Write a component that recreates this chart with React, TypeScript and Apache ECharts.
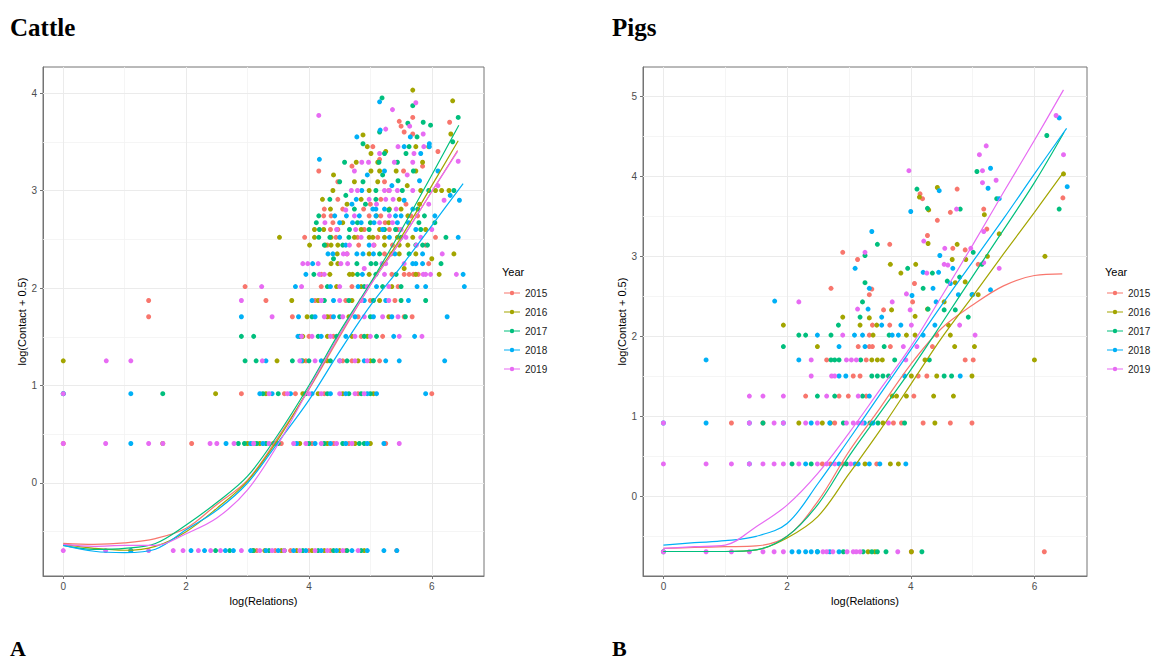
import React, { useEffect, useRef } from "react";
import * as echarts from "echarts";

const YEARS = ["2015", "2016", "2017", "2018", "2019"];
const COLORS = ["#F8766D", "#A3A500", "#00BF7D", "#00B0F6", "#E76BF3"];

// y levels log(k + 0.5)
const L0 = -0.693, L1 = 0.405, L2 = 0.916, L3 = 1.253, L4 = 1.504, L5 = 1.705, L6 = 1.872, L7 = 2.015, L8 = 2.14;

const X_TICKS = [0, 2, 4, 6];
const X_MINOR = [1, 3, 5];
const CATTLE_Y_TICKS = [0, 1, 2, 3, 4];
const CATTLE_Y_MINOR = [-0.5, 0.5, 1.5, 2.5, 3.5];
const PIGS_Y_TICKS = [0, 1, 2, 3, 4, 5];
const PIGS_Y_MINOR = [-0.5, 0.5, 1.5, 2.5, 3.5, 4.5];

// ---------- Cattle points: band rows [y, ...x] and free points [x, y] ----------
const cattleBands2015 = [
  [L0, 3.15, 3.45, 3.7, 4.0, 4.35, 4.6, 5.43],
  [L1, 0, 2.09, 3.1, 3.55, 4.05, 4.4, 4.65, 5.25],
  [L2, 2.9, 3.6, 3.78, 4.25, 4.8, 6.0],
  [L3, 3.95, 4.25, 4.55, 4.7, 5.15],
  [L4, 4.0, 4.4, 4.85, 5.2],
  [L5, 1.39, 3.73, 4.35, 4.8, 5.55, 5.68],
  [L6, 1.39, 3.3, 4.1, 4.6, 5.0, 5.4],
  [L7, 2.96, 4.2, 4.7, 5.45],
  [L8, 4.2, 5.7, 5.78],
];
const cattleUpper2015 = [
  [3.93, 2.52], [4.44, 2.52], [4.79, 2.52], [5.12, 2.52], [6.06, 2.52], [4.35, 2.6], [4.47, 2.6], [5.31, 2.6],
  [4.39, 2.67], [5.24, 2.67], [4.24, 2.74], [4.36, 2.74], [4.98, 2.74], [5.17, 2.74], [5.66, 2.74], [5.77, 2.74],
  [4.25, 2.81], [4.55, 2.81], [4.89, 2.81], [4.47, 2.91], [5.17, 2.91], [4.47, 3.09], [5.23, 3.09], [4.16, 3.2],
  [5.54, 3.2], [5.04, 3.45], [5.69, 3.58], [5.47, 3.71], [5.5, 3.66], [5.55, 3.6], [5.69, 3.75], [6.29, 3.7],
  [5.55, 2.14], [5.63, 2.14], [5.23, 2.35], [5.34, 2.35], [4.81, 2.44], [5.06, 2.44], [5.36, 2.44],
  [4.62, 2.35], [4.9, 2.6], [5.0, 2.86], [5.3, 3.0], [5.45, 2.6], [5.58, 2.86], [5.85, 3.25], [5.9, 2.44],
  [4.7, 3.25], [5.15, 3.32], [6.1, 3.4], [4.3, 2.44], [5.95, 2.25], [5.35, 2.14],
];

const cattleBands2016 = [
  [L0, 1.1, 3.1, 3.28, 3.55, 3.8, 4.05, 4.25, 4.5, 4.9],
  [L1, 1.62, 3.0, 3.2, 3.42, 3.85, 4.3, 4.75, 5.0],
  [L2, 2.48, 3.3, 3.9, 4.15, 4.55, 5.05],
  [L3, 0, 3.48, 3.9, 4.3, 4.8, 5.0],
  [L4, 3.9, 4.3, 4.7, 4.95],
  [L5, 3.97, 4.3, 4.65, 5.3],
  [L6, 3.72, 4.15, 4.7, 5.15],
  [L7, 4.45, 4.85, 5.35],
];
const cattleUpper2016 = [
  [4.34, 2.14], [4.66, 2.14], [4.71, 2.14], [4.98, 2.14], [5.74, 2.14], [6.12, 2.14], [4.36, 2.25], [4.47, 2.25],
  [4.46, 2.35], [4.98, 2.35], [5.47, 2.35], [5.74, 2.35], [6.36, 2.35], [4.01, 2.44], [4.27, 2.44], [4.36, 2.44],
  [4.47, 2.44], [5.23, 2.44], [5.47, 2.44], [5.61, 2.44], [3.52, 2.52], [4.09, 2.52], [4.36, 2.52], [4.74, 2.52],
  [4.98, 2.52], [5.04, 2.52], [5.23, 2.52], [5.44, 2.52], [5.69, 2.52], [4.09, 2.6], [4.24, 2.6], [4.85, 2.6],
  [5.15, 2.6], [5.9, 2.6], [5.61, 2.74], [4.35, 2.81], [5.31, 2.81], [5.5, 2.81], [4.22, 2.91], [4.85, 2.91],
  [5.47, 2.91], [4.39, 3.0], [4.98, 3.0], [5.82, 3.0], [6.06, 3.0], [6.16, 3.0], [6.28, 3.0], [4.74, 3.09],
  [5.12, 3.09], [5.01, 3.2], [5.15, 3.2], [5.42, 3.2], [5.74, 3.2], [4.77, 3.29], [5.12, 3.29], [5.85, 3.29],
  [5.01, 3.38], [5.74, 3.45], [4.88, 3.57], [6.31, 3.58], [5.69, 4.03], [6.34, 3.92],
  [4.55, 2.67], [4.62, 2.86], [5.1, 2.74], [5.3, 2.67], [5.6, 3.05], [5.8, 2.86], [5.95, 3.45], [4.4, 3.16],
  [5.25, 3.4], [4.95, 3.45], [6.0, 2.3], [5.55, 2.2],
];

const cattleBands2017 = [
  [L0, 2.48, 2.71, 3.09, 3.35, 3.6, 3.9, 4.15, 4.4, 4.62, 4.85],
  [L1, 2.85, 2.95, 3.15, 3.3, 3.5, 4.0, 4.25, 4.55, 4.82, 4.9],
  [L2, 0, 1.62, 3.25, 3.5, 3.95, 4.3, 4.65, 4.85, 5.0],
  [L3, 2.96, 3.14, 3.73, 4.0, 4.35, 4.62, 5.05],
  [L4, 2.9, 3.1, 3.85, 4.15, 4.45, 4.9, 5.1],
  [L5, 4.05, 4.5, 5.0, 5.57],
  [L6, 4.25, 4.65, 5.05, 5.5, 5.9],
  [L7, 4.3, 4.9, 5.2, 5.5],
];
const cattleUpper2017 = [
  [4.08, 2.14], [4.79, 2.14], [5.09, 2.14], [5.42, 2.14], [4.78, 2.25], [5.01, 2.25], [5.09, 2.25], [6.15, 2.25],
  [5.15, 2.35], [5.63, 2.35], [5.74, 2.44], [5.85, 2.44], [5.93, 2.44], [4.16, 2.52], [4.34, 2.52], [4.65, 2.52],
  [6.23, 2.52], [4.17, 2.6], [4.66, 2.6], [4.98, 2.6], [5.23, 2.6], [5.41, 2.6], [5.82, 2.6], [4.12, 2.67],
  [4.79, 2.67], [5.0, 2.67], [5.79, 2.67], [4.16, 2.74], [5.88, 2.74], [4.74, 2.81], [5.77, 2.81], [4.34, 2.91],
  [5.09, 2.91], [5.09, 3.0], [5.52, 3.0], [6.36, 3.0], [4.5, 3.09], [4.88, 3.09], [4.58, 3.29], [5.14, 3.29],
  [5.44, 3.29], [5.23, 3.38], [5.58, 3.38], [5.63, 3.45], [4.88, 3.48], [5.76, 3.55], [6.34, 3.5], [5.15, 3.6],
  [5.61, 3.69], [5.69, 3.87], [5.86, 3.7], [5.98, 3.67], [6.43, 3.75], [5.19, 3.95],
  [4.4, 2.3], [4.55, 2.44], [4.92, 2.86], [5.3, 2.8], [5.45, 3.1], [5.7, 3.2], [5.95, 3.0], [4.6, 2.95],
  [5.2, 3.16], [4.25, 2.44], [6.05, 2.67], [5.5, 2.52],
];

const cattleBands2018 = [
  [L0, 1.1, 2.08, 2.3, 2.64, 2.77, 3.05, 3.3, 3.5, 3.75, 3.95, 4.2, 4.45, 4.7, 4.95, 5.22, 5.43],
  [L1, 1.1, 2.65, 3.05, 3.25, 3.45, 3.8, 4.1, 4.35, 4.6, 4.95, 5.22],
  [L2, 0, 1.1, 3.2, 3.4, 3.7, 4.05, 4.35, 4.6, 4.95, 5.1, 5.9],
  [L3, 3.3, 3.88, 4.2, 4.5, 4.9, 5.25, 5.47, 6.21],
  [L4, 3.82, 4.2, 4.6, 5.38, 5.72],
  [L5, 2.9, 3.83, 4.1, 4.4, 4.75, 5.05, 5.35, 6.25],
  [L6, 4.05, 4.4, 4.9, 5.25, 5.62],
  [L7, 3.78, 4.35, 4.8, 5.1, 5.76, 5.9, 6.53],
];
const cattleUpper2018 = [
  [3.95, 2.14], [4.87, 2.14], [6.51, 2.14], [4.06, 2.25], [5.69, 2.25], [5.74, 2.25], [5.85, 2.25], [4.31, 2.35],
  [4.39, 2.35], [4.78, 2.35], [4.88, 2.35], [5.05, 2.35], [5.85, 2.35], [4.98, 2.44], [5.31, 2.52], [6.43, 2.52],
  [5.74, 2.6], [4.5, 2.67], [4.71, 2.67], [4.85, 2.67], [5.06, 2.67], [5.44, 2.67], [5.62, 2.67], [4.42, 2.74],
  [4.61, 2.74], [4.82, 2.74], [5.09, 2.74], [5.41, 2.74], [5.5, 2.74], [5.04, 2.81], [5.09, 2.81], [5.23, 2.81],
  [5.69, 2.81], [4.77, 2.91], [4.86, 3.0], [5.23, 3.2], [5.82, 3.38], [5.55, 3.45], [5.96, 3.45], [4.17, 3.32],
  [4.78, 3.55], [5.16, 3.62], [5.96, 3.48], [5.15, 3.91], [6.3, 2.95], [6.45, 2.9],
  [4.5, 2.52], [4.6, 2.44], [5.2, 2.6], [5.35, 3.05], [5.55, 2.9], [5.8, 3.1], [6.05, 2.74], [4.95, 3.16],
  [5.4, 2.35], [4.7, 2.86], [5.65, 3.55], [6.1, 3.2],
];

const cattleBands2019 = [
  [L0, 0, 0.69, 1.39, 1.79, 1.95, 2.2, 2.4, 2.56, 2.9, 3.2, 3.4, 3.6, 3.85, 4.1, 4.3, 4.55, 4.8],
  [L1, 0, 0.69, 1.39, 1.62, 2.39, 2.5, 2.78, 3.1, 3.35, 3.75, 3.95, 4.2, 4.45, 4.7, 5.47],
  [L2, 0, 3.35, 3.65, 4.0, 4.2, 4.5, 4.75, 4.9],
  [L3, 0.7, 1.1, 3.24, 3.85, 4.1, 4.5, 4.75, 4.95],
  [L4, 3.88, 4.05, 4.35, 4.75, 5.0, 5.47, 5.84],
  [L5, 3.4, 4.25, 4.55, 4.9, 5.2, 5.45],
  [L6, 2.9, 4.2, 4.5, 4.85, 5.3],
  [L7, 3.23, 3.88, 4.5, 4.95, 5.3],
];
const cattleUpper2019 = [
  [4.17, 2.14], [4.25, 2.14], [5.23, 2.14], [5.86, 2.14], [5.9, 2.14], [5.98, 2.14], [6.4, 2.14], [3.9, 2.25],
  [3.98, 2.25], [4.15, 2.25], [4.52, 2.25], [4.63, 2.25], [5.19, 2.25], [5.25, 2.25], [5.55, 2.25], [4.56, 2.35],
  [4.62, 2.35], [6.17, 2.35], [4.66, 2.44], [5.58, 2.52], [5.82, 2.52], [4.76, 2.6], [6.0, 2.6], [4.26, 2.67],
  [5.15, 2.67], [5.36, 2.67], [4.74, 2.74], [5.31, 2.74], [5.42, 2.81], [4.98, 2.91], [5.25, 2.91], [5.37, 2.91],
  [4.69, 3.0], [4.79, 3.0], [5.23, 3.0], [5.31, 3.0], [5.44, 3.0], [5.69, 3.0], [4.74, 3.2], [4.86, 3.29],
  [4.97, 3.29], [5.39, 3.29], [5.69, 3.29], [5.15, 3.38], [5.71, 3.38], [5.87, 3.45], [5.86, 3.58], [5.25, 3.63],
  [5.64, 3.66], [4.16, 3.77], [5.36, 3.83], [5.74, 3.9], [6.43, 3.3], [6.2, 2.9],
  [4.45, 2.6], [4.85, 2.52], [5.05, 2.44], [5.5, 2.6], [5.6, 3.16], [5.95, 2.86], [6.1, 3.05], [4.6, 2.8],
  [5.1, 2.86], [4.9, 2.2], [5.75, 2.44], [5.45, 3.45],
];

// ---------- Pigs points ----------
const pigsBands2015 = [
  [L0, 4.01, 6.16],
  [L1, 2.57, 2.7, 2.91, 3.45],
  [L2, 1.1, 1.61, 2.77, 3.72, 3.85, 4.2, 4.64, 4.99],
  [L3, 2.3, 2.84, 2.99, 3.28, 4.05],
  [L4, 3.07, 3.18, 4.12, 4.26],
  [L5, 2.64, 3.28, 4.88, 5.01],
  [L6, 3.15, 3.33, 3.38, 3.67, 4.35],
  [L7, 3.33, 4.42],
  [L8, 3.38, 3.66],
];
const pigsUpper2015 = [
  [2.71, 2.6], [2.9, 3.05], [3.14, 2.96], [3.66, 3.15], [4.15, 3.78], [4.19, 3.72], [4.27, 3.26], [4.43, 3.45],
  [4.64, 3.55], [4.75, 3.84], [4.68, 3.1], [4.88, 3.08], [5.09, 2.9], [5.18, 3.59], [5.23, 3.34], [6.46, 3.73],
  [4.06, 2.66], [4.03, 2.43], [3.56, 2.33], [3.37, 2.59], [3.33, 2.52],
];

const pigsBands2016 = [
  [L0, 3.31, 3.42, 4.01],
  [L1, 3.26, 3.67, 3.8],
  [L2, 2.19, 2.57, 2.7, 3.55, 4.39],
  [L3, 3.7, 3.77, 3.93, 4.37, 4.69],
  [L4, 4.01, 4.42, 4.99],
  [L5, 3.37, 3.46, 3.54, 4.23, 6.0],
  [L6, 2.49, 4.71, 5.03],
  [L7, 3.39, 3.93, 4.07, 4.64],
  [L8, 1.94, 3.18, 3.45, 4.61],
];
const pigsUpper2016 = [
  [2.9, 2.24], [3.67, 2.9], [3.84, 2.79], [4.08, 2.9], [4.14, 3.74], [4.29, 3.58], [4.28, 3.16], [4.43, 3.86],
  [4.75, 3.15], [4.67, 2.96], [4.89, 2.96], [5.19, 3.52], [5.43, 3.28], [5.24, 3.0], [6.17, 3.0], [6.47, 4.03],
  [4.72, 2.67], [4.88, 2.68], [5.09, 2.52], [4.54, 2.43], [4.07, 2.25], [3.69, 2.33], [3.33, 2.23], [4.27, 2.34],
];

const pigsBands2017 = [
  [L0, 0, 2.49, 2.91, 3.23, 3.37, 3.46, 3.6, 4.18],
  [L1, 2.08, 2.39, 2.96],
  [L2, 1.61, 2.91, 3.34, 3.47, 3.9],
  [L3, 2.49, 2.77, 3.22],
  [L4, 3.37, 3.46, 3.55, 3.64, 4.54, 4.66],
  [L5, 2.71, 2.77, 2.84, 3.19, 3.74, 4.3],
  [L6, 1.94, 3.57],
  [L7, 2.19, 2.3, 2.71, 3.65],
  [L8, 2.83],
];
const pigsUpper2017 = [
  [3.26, 3.01], [3.46, 3.15], [3.95, 2.85], [4.1, 3.84], [4.27, 3.6], [4.35, 2.79], [4.8, 3.59], [5.01, 3.05],
  [5.07, 4.06], [5.39, 3.72], [5.15, 2.9], [6.2, 4.51], [6.4, 3.59], [4.59, 2.69], [4.79, 2.74], [4.99, 2.52],
  [4.28, 2.34], [4.2, 2.6], [3.22, 2.43], [3.26, 2.67], [3.18, 2.24], [4.54, 2.33], [4.72, 2.33], [4.93, 2.24],
];

const pigsBands2018 = [
  [L0, 2.08, 2.19, 2.3, 2.39, 2.49, 2.69, 2.84],
  [L1, 1.39, 2.3, 2.84, 3.1, 3.15, 3.33, 3.5, 3.92],
  [L2, 0, 0.69, 1.39, 1.94, 2.39, 2.69, 3.25, 3.39],
  [L3, 3.33],
  [L4, 2.84, 2.95, 3.9, 4.8],
  [L5, 0.69, 2.19],
  [L6, 2.84, 3.26],
  [L7, 2.49, 3.09, 3.22, 3.7, 3.8, 4.2],
  [L8, 3.53, 3.84, 4.39],
];
const pigsUpper2018 = [
  [1.8, 2.44], [3.1, 2.85], [3.37, 3.31], [3.33, 2.6], [3.31, 2.34], [3.53, 2.24], [4.0, 3.56], [4.02, 2.51],
  [4.2, 2.8], [4.36, 2.6], [4.41, 2.43], [4.46, 3.82], [4.47, 3.01], [4.45, 2.8], [4.68, 2.85], [4.64, 2.66],
  [4.77, 2.52], [5.0, 2.52], [5.29, 4.1], [5.25, 3.85], [5.43, 3.72], [5.29, 2.58], [6.4, 4.73], [6.53, 3.87],
];

const pigsBands2019 = [
  [L0, 0, 0.69, 1.1, 1.39, 1.61, 1.79, 1.94, 2.58, 2.64, 2.74, 2.97, 3.07, 3.12, 3.18, 3.79],
  [L1, 0, 0.69, 1.1, 1.39, 1.61, 1.79, 1.94, 2.19, 2.49, 2.64, 2.77, 3.03],
  [L2, 0, 1.39, 1.79, 1.94, 2.3, 2.49, 2.96, 3.07, 3.15, 3.21, 3.64],
  [L3, 1.39, 1.61, 1.94, 2.64, 3.15],
  [L4, 2.39, 2.72, 2.77],
  [L5, 2.39, 2.96, 3.04, 3.12, 3.92],
  [L6, 3.88, 4.1],
  [L7, 2.9, 5.04],
  [L8, 4.01, 4.79],
];
const pigsUpper2019 = [
  [2.19, 2.43], [3.26, 3.05], [3.14, 2.34], [3.7, 2.43], [3.93, 2.53], [3.99, 2.33], [3.97, 4.07], [4.21, 3.19],
  [4.26, 2.79], [4.74, 3.59], [4.55, 3.1], [4.54, 2.9], [4.97, 3.1], [5.11, 4.27], [5.16, 4.07], [5.22, 4.38],
  [5.16, 3.92], [5.38, 3.95], [5.18, 3.31], [5.18, 2.92], [5.43, 2.85], [6.35, 4.76], [6.47, 4.27], [4.6, 2.89],
];

// ---------- Smoothed curves (y at CURVE_X, plus end point) ----------
const CURVE_X = [0, 0.5, 1, 1.5, 2, 2.5, 3, 3.5, 4, 4.5, 5, 5.5, 6];
const cattleCurve2015 = [-0.62, -0.63, -0.615, -0.57, -0.465, -0.22, 0.03, 0.47, 0.96, 1.5, 2.03, 2.49, 2.99];
const cattleCurve2016 = [-0.63, -0.67, -0.69, -0.65, -0.5, -0.26, 0.02, 0.45, 0.97, 1.52, 2.04, 2.52, 3.05];
const cattleCurve2017 = [-0.64, -0.68, -0.67, -0.62, -0.43, -0.2, 0.07, 0.5, 1.0, 1.55, 2.05, 2.59, 3.16];
const cattleCurve2018 = [-0.64, -0.7, -0.715, -0.68, -0.48, -0.28, 0.0, 0.42, 0.85, 1.35, 1.82, 2.22, 2.64];
const cattleCurve2019 = [-0.63, -0.65, -0.64, -0.64, -0.52, -0.36, -0.07, 0.4, 0.97, 1.52, 2.03, 2.49, 2.99];
const cattleCurveEnds = [[6.42, 3.41], [6.43, 3.51], [6.44, 3.67], [6.51, 3.07], [6.42, 3.4]];

const pigsCurve2015 = [-0.65, -0.64, -0.63, -0.62, -0.5, -0.06, 0.56, 1.1, 1.65, 2.1, 2.39, 2.63, 2.76];
const pigsCurve2016 = [-0.69, -0.69, -0.69, -0.67, -0.52, -0.25, 0.28, 0.82, 1.4, 1.98, 2.5, 3.03, 3.55];
const pigsCurve2017 = [-0.69, -0.69, -0.69, -0.67, -0.5, -0.1, 0.5, 1.04, 1.58, 2.16, 2.75, 3.33, 3.92];
const pigsCurve2018 = [-0.61, -0.58, -0.555, -0.5, -0.34, 0.16, 0.71, 1.27, 1.83, 2.39, 2.93, 3.47, 4.03];
const pigsCurve2019 = [-0.65, -0.63, -0.61, -0.38, -0.11, 0.29, 0.79, 1.33, 1.87, 2.5, 3.14, 3.8, 4.45];
const pigsCurveEnds = [[6.45, 2.78], [6.47, 4.05], [6.48, 4.55], [6.52, 4.6], [6.47, 5.08]];

// ---------- builders ----------
const expand = (bands: number[][], upper: number[][]) => {
  const pts: number[][] = [];
  bands.forEach((row) => {
    const y = row[0];
    row.slice(1).forEach((x) => pts.push([x, y]));
  });
  return pts.concat(upper);
};
const curve = (ys: number[], end: number[]) => CURVE_X.map((x, i) => [x, ys[i]]).concat([end]);

const cattlePoints = [
  expand(cattleBands2015, cattleUpper2015),
  expand(cattleBands2016, cattleUpper2016),
  expand(cattleBands2017, cattleUpper2017),
  expand(cattleBands2018, cattleUpper2018),
  expand(cattleBands2019, cattleUpper2019),
];
const pigsPoints = [
  expand(pigsBands2015, pigsUpper2015),
  expand(pigsBands2016, pigsUpper2016),
  expand(pigsBands2017, pigsUpper2017),
  expand(pigsBands2018, pigsUpper2018),
  expand(pigsBands2019, pigsUpper2019),
];
const cattleCurves = [cattleCurve2015, cattleCurve2016, cattleCurve2017, cattleCurve2018, cattleCurve2019].map((c, i) => curve(c, cattleCurveEnds[i]));
const pigsCurves = [pigsCurve2015, pigsCurve2016, pigsCurve2017, pigsCurve2018, pigsCurve2019].map((c, i) => curve(c, pigsCurveEnds[i]));

const FONT = "'Liberation Sans', Arial, sans-serif";
const SERIF = "'Liberation Serif', 'Times New Roman', serif";
const BORDER = "#747474";
const TICK_TEXT = "#4D4D4D";
const GRID_MAJOR = "#EBEBEB";
const GRID_MINOR = "#F3F3F3";
const LEGEND_ICON = "path://M0,1.7L16,1.7L16,2.7L0,2.7Z M8,0A2.2,2.2 0 1 1 8,4.4A2.2,2.2 0 1 1 8,0Z";

const X_MIN = -0.33, X_MAX = 6.85;
const CATTLE_Y_MIN = -0.954, CATTLE_Y_MAX = 4.267;
const PIGS_Y_MIN = -0.996, PIGS_Y_MAX = 5.366;

function xAxisCfg(gridIndex: number) {
  return {
    type: "value", gridIndex, min: X_MIN, max: X_MAX,
    name: "log(Relations)", nameLocation: "middle", nameGap: 19,
    nameTextStyle: { color: "#000", fontSize: 11, fontFamily: FONT },
    axisLine: { show: true, onZero: false, lineStyle: { color: BORDER, width: 1 } },
    axisTick: { show: true, length: 3, customValues: X_TICKS, lineStyle: { color: BORDER } },
    axisLabel: { customValues: X_TICKS, color: TICK_TEXT, fontSize: 10, margin: 5, fontFamily: FONT },
    splitLine: { show: false },
  };
}
function yAxisCfg(gridIndex: number, min: number, max: number, ticks: number[], gap: number) {
  return {
    type: "value", gridIndex, min, max,
    name: "log(Contact + 0.5)", nameLocation: "middle", nameGap: gap, nameRotate: 90,
    nameTextStyle: { color: "#000", fontSize: 11, fontFamily: FONT },
    axisLine: { show: true, onZero: false, lineStyle: { color: BORDER, width: 1 } },
    axisTick: { show: true, length: 3, customValues: ticks, lineStyle: { color: BORDER } },
    axisLabel: { customValues: ticks, color: TICK_TEXT, fontSize: 10, margin: 6, fontFamily: FONT },
    splitLine: { show: false },
  };
}
function gridLines(idx: number, yMajor: number[], yMinor: number[]) {
  const data: any[] = [];
  X_MINOR.forEach((v) => data.push({ xAxis: v, lineStyle: { color: GRID_MINOR, width: 0.8, type: "solid" } }));
  yMinor.forEach((v) => data.push({ yAxis: v, lineStyle: { color: GRID_MINOR, width: 0.8, type: "solid" } }));
  X_TICKS.forEach((v) => data.push({ xAxis: v, lineStyle: { color: GRID_MAJOR, width: 1, type: "solid" } }));
  yMajor.forEach((v) => data.push({ yAxis: v, lineStyle: { color: GRID_MAJOR, width: 1, type: "solid" } }));
  return {
    type: "line", name: "grid" + idx, xAxisIndex: idx, yAxisIndex: idx, data: [], silent: true, z: 1,
    markLine: { silent: true, z: 1, symbol: ["none", "none"], label: { show: false }, animation: false, data },
  };
}
function panelSeries(idx: number, points: number[][][], curves: number[][][]) {
  const s: any[] = [];
  YEARS.forEach((y, i) => {
    s.push({
      type: "scatter", name: y, xAxisIndex: idx, yAxisIndex: idx, data: points[i],
      symbol: "circle", symbolSize: 5, itemStyle: { color: COLORS[i], opacity: 1 }, z: 3,
    });
  });
  YEARS.forEach((y, i) => {
    s.push({
      type: "line", name: y, xAxisIndex: idx, yAxisIndex: idx, data: curves[i],
      smooth: 0.35, showSymbol: false, symbol: "circle", symbolSize: 5,
      lineStyle: { color: COLORS[i], width: 1.2 }, itemStyle: { color: COLORS[i] }, z: 4,
    });
  });
  return s;
}
function legendCfg(left: number) {
  return {
    orient: "vertical", left, top: 287, padding: 0, data: YEARS, icon: LEGEND_ICON,
    itemWidth: 16, itemHeight: 4.4, itemGap: 7, selectedMode: false,
    textStyle: { fontSize: 10, color: "#1a1a1a", fontFamily: FONT, lineHeight: 12 },
  };
}
function txt(left: number, top: number, text: string, font: any) {
  return { type: "text", left, top, style: { text, fill: "#000", ...font } };
}

export default function App() {
  const ref = useRef<HTMLDivElement>(null);
  useEffect(() => {
    if (!ref.current) return;
    const chart = echarts.init(ref.current, undefined, { renderer: "svg" });
    const title = { font: `bold 25px ${SERIF}` };
    const letter = { font: `bold 22px ${SERIF}` };
    const yearFont = { font: `11px ${FONT}` };
    chart.setOption({
      animation: false,
      backgroundColor: "#ffffff",
      grid: [
        { left: 43, top: 67, width: 441, height: 509, show: true, borderColor: BORDER, borderWidth: 1, backgroundColor: "transparent" },
        { left: 643, top: 67, width: 444, height: 509, show: true, borderColor: BORDER, borderWidth: 1, backgroundColor: "transparent" },
      ],
      xAxis: [xAxisCfg(0), xAxisCfg(1)],
      yAxis: [
        yAxisCfg(0, CATTLE_Y_MIN, CATTLE_Y_MAX, CATTLE_Y_TICKS, 15),
        yAxisCfg(1, PIGS_Y_MIN, PIGS_Y_MAX, PIGS_Y_TICKS, 12),
      ],
      legend: [legendCfg(504), legendCfg(1107)],
      graphic: [
        txt(10, 15, "Cattle", title),
        txt(612, 15, "Pigs", title),
        txt(10, 637, "A", letter),
        txt(612, 637, "B", letter),
        txt(502, 266, "Year", yearFont),
        txt(1105, 266, "Year", yearFont),
      ],
      series: [
        gridLines(0, CATTLE_Y_TICKS, CATTLE_Y_MINOR),
        gridLines(1, PIGS_Y_TICKS, PIGS_Y_MINOR),
        ...panelSeries(0, cattlePoints, cattleCurves),
        ...panelSeries(1, pigsPoints, pigsCurves),
      ],
    });
    return () => chart.dispose();
  }, []);
  return <div ref={ref} style={{ position: "fixed", left: 0, top: 0, width: 1161, height: 661 }} />;
}
